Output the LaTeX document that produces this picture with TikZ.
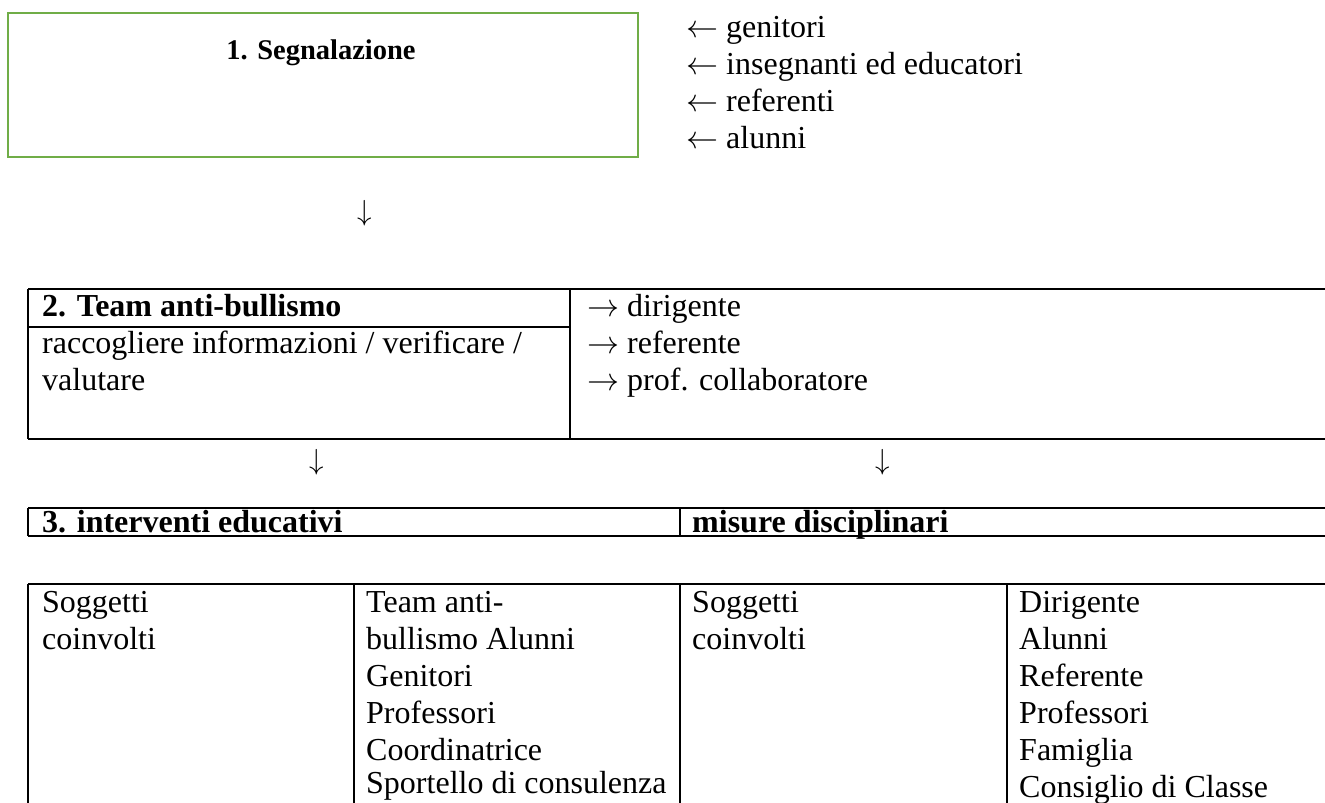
\RequirePackage{fix-cm}
\documentclass[tikz,border=0pt]{standalone}
\usepackage{fontspec}
\setmainfont{Liberation Serif}
\usepackage{tikz}
\usetikzlibrary{positioning}

\definecolor{boxgreen}{RGB}{112,173,71}

\begin{document}
\begin{tikzpicture}[x=1pt, y=-1pt,
  txt/.style={anchor=base west, inner sep=0pt, font=\fontsize{32}{37}\selectfont},
  hdr/.style={txt, font=\fontsize{32}{37}\selectfont\bfseries},
  arr/.style={inner sep=0pt, font=\fontsize{29}{35}\selectfont},
  rule/.style={line width=1.8pt}]
\useasboundingbox (0,0) rectangle (1325,803);

% 1. segnalazione
\draw[boxgreen, line width=2.2pt] (8,13) rectangle (638,157);
\node[anchor=base, inner sep=0pt, font=\fontsize{28.5}{34}\selectfont\bfseries] (segn) at (321,59) {1. Segnalazione};
\foreach \who [count=\i] in {genitori, insegnanti ed educatori, referenti, alunni}
  \node[txt] (fonte\i) at (686,37*\i) {$\leftarrow$ \who};
\node[arr] (giu1) at (365,213) {$\downarrow$};

% 2. team
\draw[rule] (28,289) -- (1325,289);
\draw[rule] (28,439) -- (1325,439);
\draw[rule] (28,289) -- (28,439);
\draw[rule] (570,289) -- (570,439);
\draw[rule] (28,327) -- (570,327);
\node[hdr] (team) at (42,316) {2. Team anti-bullismo};
\node[txt] (racc) at (42,353) {raccogliere informazioni / verificare /};
\node[txt] (valu) at (42,390) {valutare};
\foreach \who [count=\i] in {dirigente, referente, prof. collaboratore}
  \node[txt] (avviso\i) at (587,279+37*\i) {$\rightarrow$ \who};
\node[arr] (giu2) at (317,462) {$\downarrow$};
\node[arr] (giu3) at (883,462) {$\downarrow$};

% 3. interventi / misure
\draw[rule] (28,508) -- (1325,508);
\draw[rule] (28,536) -- (1325,536);
\draw[rule] (28,508) -- (28,536);
\draw[rule] (680,508) -- (680,536);
\node[hdr] (interv) at (42,532) {3. interventi educativi};
\node[hdr] (misure) at (692,532) {misure disciplinari};

% soggetti coinvolti
\draw[rule] (28,584) -- (1325,584);
\foreach \xx in {28,354,680,1007}
  \draw[rule] (\xx,584) -- (\xx,803);
\node[txt] (sogg1) at (42,612) {Soggetti};
\node[txt] (coinv1) at (42,649) {coinvolti};
\node[txt] (ed1) at (366,612) {Team anti-};
\node[txt] (ed2) at (366,649) {bullismo Alunni};
\node[txt] (ed3) at (366,686) {Genitori};
\node[txt] (ed4) at (366,723) {Professori};
\node[txt] (ed5) at (366,760) {Coordinatrice};
\node[txt] (ed6) at (366,793) {Sportello di consulenza};
\node[txt] (sogg2) at (692,612) {Soggetti};
\node[txt] (coinv2) at (692,649) {coinvolti};
\foreach \who [count=\i] in {Dirigente, Alunni, Referente, Professori, Famiglia, Consiglio di Classe}
  \node[txt] (disc\i) at (1019,575+37*\i) {\who};
\end{tikzpicture}
\end{document}
